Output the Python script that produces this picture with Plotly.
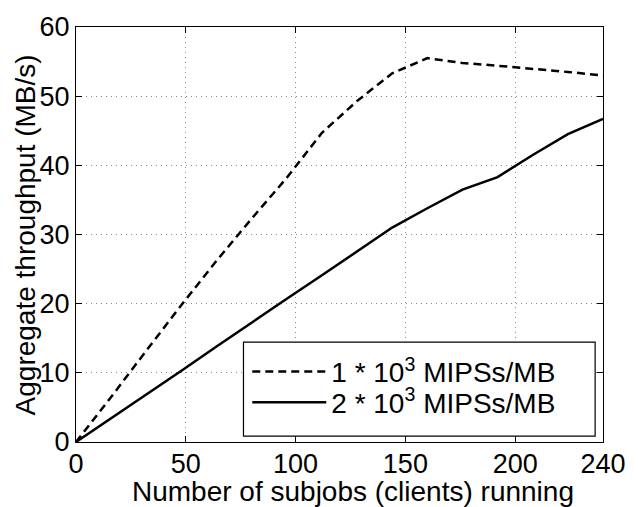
import plotly.graph_objects as go

x_clients = [0, 16, 32, 48, 64, 80, 96, 112, 128, 144, 160, 176, 192, 208, 224, 240]
tput_1e3 = [0, 6.5, 13.2, 19.8, 26.2, 32.3, 38.2, 44.7, 49.3, 53.3, 55.5, 54.8, 54.4, 54.0, 53.5, 53.0]
tput_2e3 = [0, 3.4, 6.9, 10.3, 13.8, 17.3, 20.7, 24.1, 27.5, 31.0, 33.8, 36.5, 38.3, 41.5, 44.5, 46.7]
series_names = ["1 * 10<sup>3</sup> MIPSs/MB", "2 * 10<sup>3</sup> MIPSs/MB"]
x_ticks = [0, 50, 100, 150, 200, 240]
y_ticks = [0, 10, 20, 30, 40, 50, 60]
x_title = "Number of subjobs (clients) running"
y_title = "Aggregate throughput (MB/s)"

font_family = "Liberation Sans, Arial, sans-serif"

fig = go.Figure()
fig.add_trace(go.Scatter(x=x_clients, y=tput_1e3, mode="lines", name=series_names[0],
                         legend="legend",
                         line=dict(color="black", width=2.5, dash="8px,5px")))
fig.add_trace(go.Scatter(x=x_clients, y=tput_2e3, mode="lines", name=series_names[1],
                         legend="legend2",
                         line=dict(color="black", width=2.5)))

axis_common = dict(
    showline=True, linecolor="black", linewidth=1.2, mirror="ticks",
    ticks="inside", ticklen=6, tickcolor="black",
    showgrid=True, gridcolor="#8a8a8a", griddash="1px,4px", gridwidth=1,
    zeroline=False, tickfont=dict(size=27, color="black", family=font_family),
)

fig.update_xaxes(range=[0, 240], tickvals=x_ticks, ticktext=[str(v) for v in x_ticks],
                 ticklabelstandoff=-3, **axis_common)
fig.update_yaxes(range=[0, 60], tickvals=y_ticks, ticktext=[str(v) for v in y_ticks],
                 **axis_common)

fig.add_annotation(text=x_title, xref="paper", yref="paper", x=0.526, y=-0.077,
                   xanchor="center", yanchor="top", showarrow=False,
                   font=dict(size=28, color="black", family=font_family))
fig.add_annotation(text=y_title, xref="paper", yref="paper", x=-0.095, y=0.5,
                   xanchor="center", yanchor="middle", textangle=-90, showarrow=False,
                   font=dict(size=28, color="black", family=font_family))

# legend frame
fig.add_shape(type="rect", xref="paper", yref="paper", x0=0.3178, x1=0.9851, y0=0.0142, y1=0.2406,
              line=dict(color="black", width=1.2), fillcolor="white", layer="above")

leg_common = dict(xanchor="left", yanchor="middle", bgcolor="rgba(0,0,0,0)", borderwidth=0,
                  itemwidth=74, font=dict(size=28, color="black", family=font_family))
fig.update_layout(
    width=638, height=507,
    margin=dict(l=76, r=24, t=18, b=65),
    plot_bgcolor="white", paper_bgcolor="white",
    font=dict(family=font_family, color="black"),
    showlegend=True,
    legend=dict(x=0.325, y=0.169, **leg_common),
    legend2=dict(x=0.325, y=0.095, **leg_common),
)

fig.write_html("out.html", config={"displayModeBar": False},
               post_script="document.body.style.margin='0';document.body.style.overflow='hidden';")
